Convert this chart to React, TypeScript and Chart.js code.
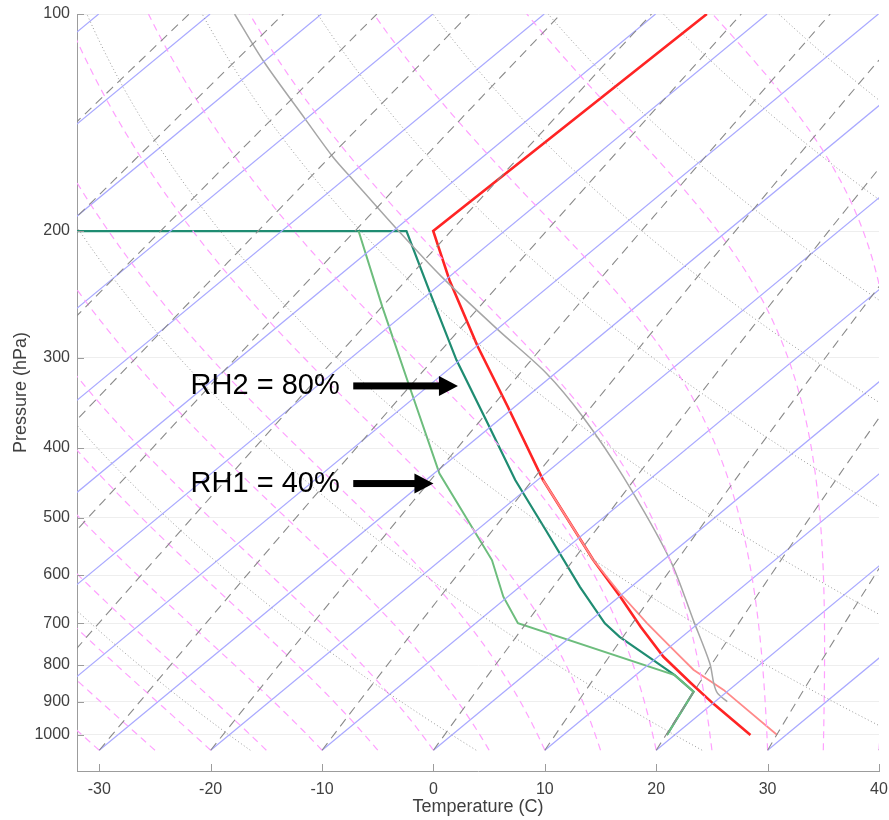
import React, { useEffect, useRef } from "react";
import { Chart, registerables } from "chart.js";

Chart.register(...registerables);

// ---- axes -------------------------------------------------------------
const X_TICKS = [-30, -20, -10, 0, 10, 20, 30, 40];
const Y_TICKS = [100, 200, 300, 400, 500, 600, 700, 800, 900, 1000];
const X_MIN = -32;
const X_MAX = 40;
const P_TOP = 100;
const P_BOTTOM = 1122;
const P_BASE = 1050; // isotherms are unskewed at this pressure
const SKEW = 34; // horizontal shift (°C) per e-fold of pressure

// ---- background line families (°C) -----------------------------------
const ISOTHERMS = [-120, -110, -100, -90, -80, -70, -60, -50, -40, -30, -20, -10, 0, 10, 20, 30, 40];
const DRY_THETA = [-40, -20, 0, 20, 40, 60, 80, 100, 120, 140, 160, 180, 200];
const MOIST_START = [-45, -40, -35, -30, -25, -20, -15, -10, -5, 0, 5, 10, 15, 20, 25, 30, 35, 40, 45, 50, 55, 60];
const MIXING_START = [-90, -80, -70, -60, -50, -40, -30, -20, -10, 0, 10, 20, 30, 40];

// ---- sounding profiles: pressure (hPa) / temperature (°C) --------------
const ENV_P = [1000, 904, 847, 779, 708, 643, 572, 443, 350, 289, 234, 208, 200, 100];
const ENV_T = [26.8, 20.0, 15.8, 10.5, 5.2, 0.1, -6.3, -19.5, -30.7, -39.9, -49.6, -54.7, -56.4, -55.4];

const WARM_P = [1000, 866, 812, 754, 700, 636, 572, 443];
const WARM_T = [29.2, 19.5, 14.6, 10.0, 5.4, -0.3, -6.3, -19.5];

const PARCEL_P = [899, 875, 848, 796, 693, 572, 438, 362, 315, 274, 231, 199, 170, 158, 140, 116, 100];
const PARCEL_T = [21.1, 19.3, 17.9, 15.4, 9.2, 0.6, -12.7, -22.8, -30.8, -39.9, -50.8, -59.8, -69.1, -73.4, -80.0, -90.2, -97.8];

// dew point, RH2 = 80 %
const DEW80_P = [1000, 871, 826, 787, 731, 700, 623, 520, 443, 366, 302, 244, 200, 200];
const DEW80_T = [19.3, 17.0, 13.5, 9.9, 4.4, 1.6, -4.6, -13.8, -22.0, -31.1, -40.3, -49.9, -58.8, -100];

// dew point, RH1 = 40 %
const DEW40_P = [1000, 871, 826, 700, 643, 572, 434, 332, 255, 200];
const DEW40_T = [19.3, 17.0, 13.5, -6.2, -10.4, -15.4, -29.5, -41.2, -52.7, -63.1];

// ---- text callouts -----------------------------------------------------
const CALLOUT_TEXT = ["RH2 = 80%", "RH1 = 40%"];
const CALLOUT_P = [328, 448];
const CALLOUT_TEXT_X = [-21.8, -21.8];
const CALLOUT_TAIL_X = [-7.2, -7.2];
const CALLOUT_TIP_X = [2.2, 0.0];

// ---- styling ------------------------------------------------------------
const FONT = "'Liberation Sans', Arial, Helvetica, sans-serif";
const AXIS_COLOR = "#9c9c9c";
const TEXT_COLOR = "#404040";
const GRID_COLOR = "#eeeeee";

// ---- thermodynamics -----------------------------------------------------
const RD = 287.04;
const CP = 1005.7;
const LV = 2.501e6;
const EPS = 0.622;
const KAPPA = 0.286;

const satVap = (tc: number) => 6.112 * Math.exp((17.67 * tc) / (tc + 243.5));
const skewX = (tc: number, p: number) => tc + SKEW * Math.log(P_BASE / p);

const LEVELS: number[] = [];
for (let i = 0; i <= 80; i++) LEVELS.push(P_BASE * Math.pow(P_TOP / P_BASE, i / 80));

type Pt = { x: number; y: number };

function isotherm(t: number): Pt[] {
  return [
    { x: skewX(t, P_BASE), y: P_BASE },
    { x: skewX(t, P_TOP), y: P_TOP },
  ];
}

function dryAdiabat(thetaC: number): Pt[] {
  return LEVELS.map((p) => ({
    x: skewX((thetaC + 273.15) * Math.pow(p / 1000, KAPPA) - 273.15, p),
    y: p,
  }));
}

function mixingLine(t0: number): Pt[] {
  const e0 = satVap(t0);
  const w = (EPS * e0) / (P_BASE - e0);
  return LEVELS.map((p) => {
    const e = (w * p) / (EPS + w);
    const l = Math.log(e / 6.112);
    const td = (243.5 * l) / (17.67 - l);
    return { x: skewX(td, p), y: p };
  });
}

// Saturated ascent keeping theta_e ~ (T + Lv*r/cp)(p0/p)^kappa constant,
// integrated upward from P_BASE with RK4 in pressure.
function moistAdiabat(t0: number): Pt[] {
  const lapse = (p: number, tk: number) => {
    const es = satVap(tk - 273.15);
    const rs = (EPS * es) / (p - es);
    return (RD * tk + (1 + KAPPA) * LV * rs) / (p * (CP + (LV * LV * rs * EPS) / (RD * tk * tk)));
  };
  let p = P_BASE;
  let t = t0 + 273.15;
  const pts: Pt[] = [{ x: skewX(t0, p), y: p }];
  let n = 0;
  while (p > P_TOP + 1e-9) {
    const h = Math.max(-2, P_TOP - p);
    const k1 = lapse(p, t);
    const k2 = lapse(p + h / 2, t + (h / 2) * k1);
    const k3 = lapse(p + h / 2, t + (h / 2) * k2);
    const k4 = lapse(p + h, t + h * k3);
    t += (h / 6) * (k1 + 2 * k2 + 2 * k3 + k4);
    p += h;
    n++;
    if (n % 4 === 0 || p <= P_TOP + 1e-9) pts.push({ x: skewX(t - 273.15, p), y: p });
  }
  return pts;
}

const profile = (P: number[], T: number[]): Pt[] => P.map((p, i) => ({ x: skewX(T[i], p), y: p }));

function line(data: Pt[], color: string, width: number, dash: number[] = [], tension = 0) {
  return {
    data,
    borderColor: color,
    backgroundColor: color,
    borderWidth: width,
    borderDash: dash,
    pointRadius: 0,
    showLine: true,
    fill: false,
    tension,
  };
}

const overlay = {
  id: "skewtOverlay",
  afterDraw(chart: any) {
    const { ctx, chartArea: a } = chart;
    const x = chart.scales.x;
    const y = chart.scales.y;
    ctx.save();

    // inward tick marks
    ctx.strokeStyle = AXIS_COLOR;
    ctx.lineWidth = 1;
    ctx.beginPath();
    X_TICKS.forEach((v) => {
      const px = Math.round(x.getPixelForValue(v)) + 0.5;
      ctx.moveTo(px, a.bottom);
      ctx.lineTo(px, a.bottom - 7);
    });
    Y_TICKS.forEach((v) => {
      const py = Math.round(y.getPixelForValue(v)) + 0.5;
      ctx.moveTo(a.left, py);
      ctx.lineTo(a.left + 7, py);
    });
    ctx.stroke();

    // axis titles
    ctx.fillStyle = TEXT_COLOR;
    ctx.font = `18px ${FONT}`;
    ctx.textAlign = "center";
    ctx.textBaseline = "middle";
    ctx.fillText("Temperature (C)", (a.left + a.right) / 2, a.bottom + 36);
    ctx.save();
    ctx.translate(21, (a.top + a.bottom) / 2);
    ctx.rotate(-Math.PI / 2);
    ctx.fillText("Pressure (hPa)", 0, 0);
    ctx.restore();

    // callouts with arrows
    const head = 19;
    ctx.fillStyle = "#000";
    ctx.font = `29px ${FONT}`;
    ctx.textAlign = "left";
    CALLOUT_TEXT.forEach((txt, i) => {
      const py = y.getPixelForValue(CALLOUT_P[i]);
      ctx.fillText(txt, x.getPixelForValue(CALLOUT_TEXT_X[i]), py);
      const x0 = x.getPixelForValue(CALLOUT_TAIL_X[i]);
      const x1 = x.getPixelForValue(CALLOUT_TIP_X[i]);
      ctx.fillRect(x0, py - 3.5, x1 - head - x0 + 1, 7);
      ctx.beginPath();
      ctx.moveTo(x1, py);
      ctx.lineTo(x1 - head, py - 10);
      ctx.lineTo(x1 - head, py + 10);
      ctx.closePath();
      ctx.fill();
    });
    ctx.restore();
  },
};

export default function App() {
  const canvasRef = useRef<HTMLCanvasElement | null>(null);

  useEffect(() => {
    if (!canvasRef.current) return;

    const datasets: any[] = [];
    DRY_THETA.forEach((th) => datasets.push(line(dryAdiabat(th), "#8e8e8e", 0.9, [1, 2.5])));
    MIXING_START.forEach((t) => datasets.push(line(mixingLine(t), "#8a8a8a", 1.1, [9, 6])));
    MOIST_START.forEach((t) => datasets.push(line(moistAdiabat(t), "#ffa0ff", 1.2, [7, 5])));
    ISOTHERMS.forEach((t) => datasets.push(line(isotherm(t), "#a9a9ff", 1.2)));

    datasets.push(line(profile(PARCEL_P, PARCEL_T), "#a6a6a6", 1.5, [], 0.3));
    datasets.push(line(profile(DEW40_P, DEW40_T), "#6dbd7d", 2.0));
    datasets.push(line(profile(DEW80_P, DEW80_T), "#1f8c72", 2.2));
    datasets.push(line(profile(WARM_P, WARM_T), "#ff8a8a", 1.8));
    datasets.push(line(profile(ENV_P, ENV_T), "#ff2424", 2.6));

    const tickFont = { family: FONT, size: 16 };

    const chart = new Chart(canvasRef.current, {
      type: "scatter",
      data: { datasets },
      plugins: [overlay],
      options: {
        animation: false,
        responsive: false,
        maintainAspectRatio: false,
        devicePixelRatio: 1,
        events: [],
        layout: { padding: { left: 0, right: 10, top: 14, bottom: 0 } },
        plugins: { legend: { display: false }, tooltip: { enabled: false } },
        scales: {
          x: {
            type: "linear",
            min: X_MIN,
            max: X_MAX,
            afterBuildTicks: (s: any) => {
              s.ticks = X_TICKS.map((v) => ({ value: v }));
            },
            afterFit: (s: any) => {
              s.height = 49;
              s.paddingLeft = 0;
              s.paddingRight = 0;
            },
            grid: { display: false, drawTicks: false },
            border: { display: true, color: AXIS_COLOR, width: 1 },
            ticks: { padding: 9, color: TEXT_COLOR, font: tickFont, callback: (v: any) => String(v) },
          },
          y: {
            type: "logarithmic",
            reverse: true,
            min: P_TOP,
            max: P_BOTTOM,
            afterBuildTicks: (s: any) => {
              s.ticks = Y_TICKS.map((v) => ({ value: v }));
            },
            afterFit: (s: any) => {
              s.width = 77;
              s.paddingTop = 0;
              s.paddingBottom = 0;
            },
            grid: { display: true, color: GRID_COLOR, lineWidth: 1, drawTicks: false },
            border: { display: true, color: AXIS_COLOR, width: 1 },
            ticks: { padding: 7, color: TEXT_COLOR, font: tickFont, callback: (v: any) => String(v) },
          },
        },
      } as any,
    });

    return () => chart.destroy();
  }, []);

  return (
    <div style={{ position: "absolute", left: 0, top: 0, width: 889, height: 820, background: "#fff" }}>
      <canvas ref={canvasRef} width={889} height={820} style={{ display: "block" }} />
    </div>
  );
}
